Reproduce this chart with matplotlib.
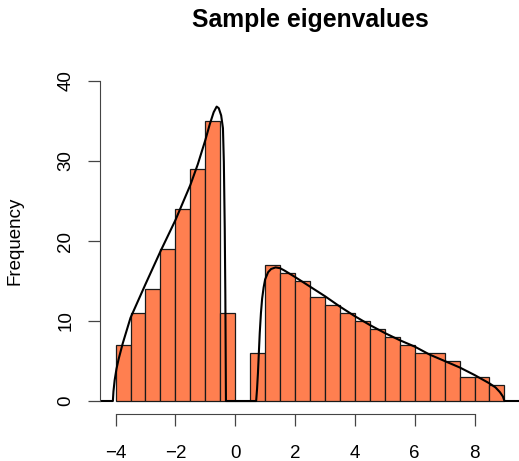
import numpy as np
import matplotlib
matplotlib.use('Agg')
import matplotlib.pyplot as plt

plt.rcParams['font.family'] = ['Liberation Sans', 'DejaVu Sans']

# histogram: bins of width 0.5 from -4 to 9
bin_edges = np.arange(-4, 9.01, 0.5)
counts = [7, 11, 14, 19, 24, 29, 35, 11,
          0, 6, 17, 16, 15, 13, 12, 11, 10, 9, 8, 7, 6, 6, 5, 3, 3, 2]

# density curve (x, height in counts)
curve_x = [-4.6, -4.09, -4.07, -4.03, -3.97, -3.9, -3.76, -3.5, -3.0, -2.5, -2.0,
           -1.5, -1.25, -1.0, -0.85, -0.72, -0.62, -0.55, -0.47, -0.41, -0.38,
           -0.35, -0.33, -0.31, 0.70, 0.73, 0.76, 0.79, 0.82, 0.86, 0.90, 0.95,
           1.0, 1.1, 1.2, 1.35, 1.5, 1.65, 2.0, 2.5, 3.0, 3.5, 4.0, 4.5, 5.0,
           5.5, 6.0, 6.5, 7.0, 7.5, 8.0, 8.5, 8.7, 8.85, 8.95, 9.0, 9.6]
curve_y = [0, 0, 1.2, 2.6, 4.0, 5.2, 7.2, 10.4, 14.6, 18.7, 22.6,
           27.0, 29.6, 32.6, 34.6, 36.1, 36.8, 36.6, 35.7, 34.1, 29.9,
           21.6, 13.2, 0, 0, 1.5, 3.5, 6.0, 8.5, 11.0, 12.8, 14.2,
           15.2, 16.1, 16.5, 16.7, 16.6, 16.3, 15.5, 14.3, 13.1, 11.8, 10.6, 9.5, 8.5,
           7.6, 6.8, 5.8, 5.0, 4.2, 3.25, 2.2, 1.7, 1.1, 0.55, 0, 0]

fig = plt.figure(figsize=(5.19, 4.61), dpi=100)
ax = fig.add_axes([100 / 519, (461 - 413.8) / 461, 420 / 519, 345.6 / 461])

ax.bar(bin_edges[:-1], counts, width=0.5, align='edge', color='#FF7F50',
       edgecolor='#1a1a1a', linewidth=0.9)
ax.plot(curve_x, curve_y, color='black', linewidth=1.5)

ax.set_xlim(-4.52, 9.52)
ax.set_ylim(-1.6, 41.6)
ax.set_xticks([-4, -2, 0, 2, 4, 6, 8])
ax.set_xticklabels(['\u22124', '\u22122', '0', '2', '4', '6', '8'])
ax.set_yticks([0, 10, 20, 30, 40])

for s in ['top', 'right']:
    ax.spines[s].set_visible(False)
ax.spines['bottom'].set_bounds(-4, 8)
ax.spines['left'].set_bounds(0, 40)
ax.spines['bottom'].set_color('#444444')
ax.spines['left'].set_color('#444444')
ax.tick_params(axis='both', length=8.5, width=0.9, color='#444444',
               labelsize=13.5, pad=14)
ax.tick_params(axis='y', pad=10)
for lab in ax.get_yticklabels():
    lab.set_rotation(90)
    lab.set_va('center')

ax.set_ylabel('Frequency', fontsize=13.5, labelpad=24)
ax.set_title('Sample eigenvalues', fontsize=17.8, fontweight='bold', pad=29.5)

fig.savefig('out.png', dpi=100)
